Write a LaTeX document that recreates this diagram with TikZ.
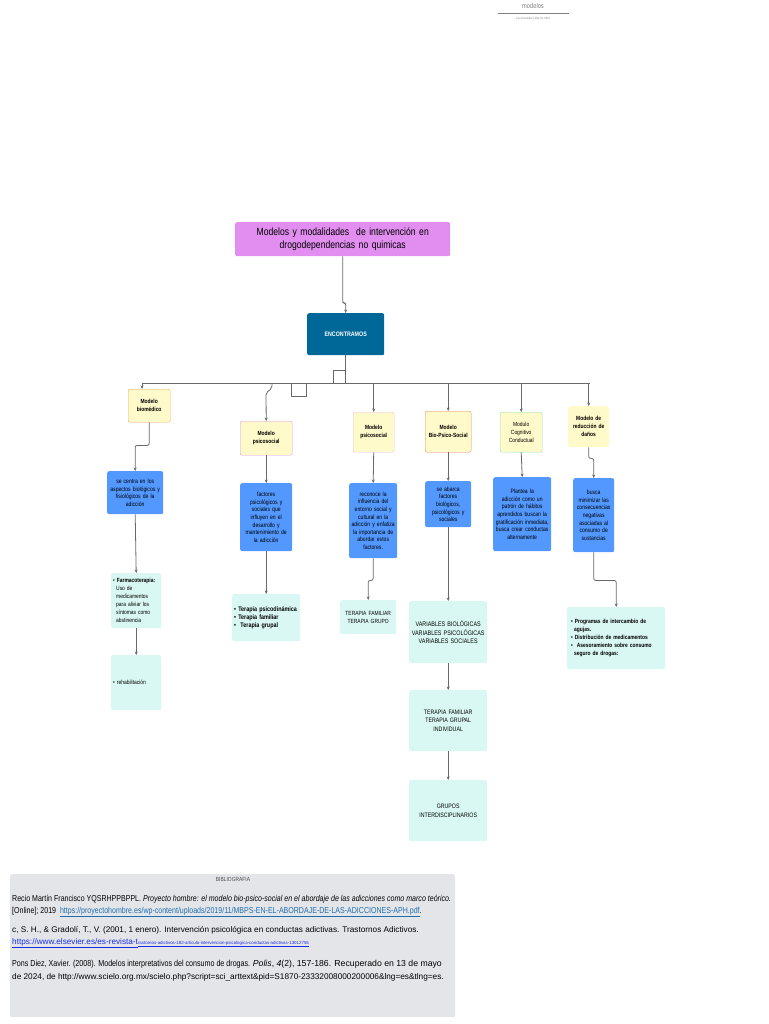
\documentclass[tikz,border=0pt]{standalone}
\usepackage{fontspec}
\setmainfont{Liberation Sans}
\newfontfamily\cond[FakeStretch=0.82]{Liberation Sans}
\usetikzlibrary{arrows.meta}
\definecolor{titlefill}{RGB}{226,142,240}
\definecolor{encfill}{RGB}{0,103,153}
\definecolor{yel}{RGB}{255,250,202}
\definecolor{blu}{RGB}{82,152,255}
\definecolor{cya}{RGB}{218,248,243}
\definecolor{bibfill}{RGB}{228,229,233}
\definecolor{lin}{RGB}{105,105,105}
\definecolor{bOrange}{RGB}{245,165,90}
\definecolor{bPink}{RGB}{228,150,240}
\definecolor{bPink2}{RGB}{240,190,240}
\definecolor{bRed}{RGB}{250,125,95}
\definecolor{bGreen}{RGB}{140,230,180}
\definecolor{linkA}{RGB}{30,110,175}
\definecolor{linkB}{RGB}{25,45,230}
\begin{document}
\begin{tikzpicture}[x=1pt,y=-1pt,
  base/.style={anchor=north west, rounded corners=2pt, inner sep=2pt, align=center},
  ybox/.style={base, fill=yel, font=\cond\bfseries\fontsize{6}{8}\selectfont},
  bbox/.style={base, fill=blu, font=\cond\fontsize{6.2}{7.6}\selectfont},
  cbox/.style={base, fill=cya, font=\cond\fontsize{6}{8}\selectfont},
  line/.style={draw=lin, line width=0.8pt, rounded corners=2pt},
  arr/.style={line, -{Stealth[length=3.5pt,width=3pt]}}]
\useasboundingbox (0,0) rectangle (768,1024);

% header
\node[text=gray, font=\cond\fontsize{7}{8}\selectfont] (hdr) at (533,6) {modelos};
\draw[gray, line width=0.6pt] (498,13) -- (569,13);
\node[text=gray, font=\cond\fontsize{3}{4}\selectfont] (hdrsub) at (533,19) {jose hernandez \textbar{} May 13, 2024};

% title and root
\node[base, fill=titlefill, minimum width=215pt, minimum height=34pt, text width=211pt,
      font=\cond\fontsize{10.5}{12.5}\selectfont] (title) at (235,222)
  {Modelos y modalidades~ de intervención en\\drogodependencias no quimicas};
\node[base, fill=encfill, text=white, minimum width=77pt, minimum height=42pt, text width=73pt,
      font=\cond\bfseries\fontsize{6.5}{8}\selectfont] (enc) at (307,313) {ENCONTRAMOS};

% level 2
\node[ybox, draw=bOrange, minimum width=42pt, minimum height=33pt, text width=38pt] (y1) at (128,389) {Modelo\\biomédico};
\node[ybox, draw=bPink, minimum width=52pt, minimum height=34pt, text width=48pt] (y2) at (240,421) {Modelo\\psicosocial\\[4pt]};
\node[ybox, draw=bPink2, minimum width=41pt, minimum height=40pt, text width=37pt] (y3) at (353,412) {Modelo\\psicosocial};
\node[ybox, draw=bRed, minimum width=46pt, minimum height=41pt, text width=42pt] (y4) at (425,411) {Modelo\\Bio-Psico-Social};
\node[ybox, draw=bGreen, minimum width=42pt, minimum height=40pt, text width=38pt, font=\cond\fontsize{6}{8}\selectfont] (y5) at (500,412) {Modulo\\Cognitivo\\Conductual};
\node[ybox, minimum width=41pt, minimum height=41pt, text width=37pt] (y6) at (568,406) {Modelo de\\reducción de\\daños};

% level 3
\node[bbox, minimum width=56pt, minimum height=43pt, text width=52pt] (b1) at (107,471) {se centra en los\\aspectos biológicos y\\fisiológicos de la\\adicción};
\node[bbox, minimum width=52pt, minimum height=68pt, text width=48pt] (b2) at (240,483) {factores\\psicológicos y\\sociales que\\influyen en el\\desarrollo y\\mantenimiento de\\la adicción};
\node[bbox, minimum width=48pt, minimum height=75pt, text width=44pt] (b3) at (349,483) {reconoce la\\influencia del\\entorno social y\\cultural en la\\adicción y enfatiza\\la importancia de\\abordar estos\\factores.};
\node[bbox, minimum width=46pt, minimum height=46pt, text width=42pt] (b4) at (425,481) {se abarca\\factores\\biológicos,\\psicológicos y\\sociales};
\node[bbox, minimum width=58pt, minimum height=74pt, text width=54pt] (b5) at (493,477) {Plantea la\\adicción como un\\patrón de hábitos\\aprendidos buscan la\\gratificación inmediata,\\busca crear conductas\\alternamente};
\node[bbox, minimum width=41pt, minimum height=74pt, text width=37pt] (b6) at (573,478) {busca\\minimizar las\\consecuencias\\negativas\\asociadas al\\consumo de\\sustancias};

% level 4
\node[cbox, minimum width=50pt, minimum height=55pt, text width=46pt, align=left] (c1) at (111,573)
  {• \textbf{Farmacoterapia:}\\\hspace*{3pt}Uso de\\\hspace*{3pt}medicamentos\\\hspace*{3pt}para aliviar los\\\hspace*{3pt}síntomas como\\\hspace*{3pt}abstinencia};
\node[cbox, minimum width=50pt, minimum height=55pt, text width=46pt, align=left] (c2) at (111,655) {• rehabilitación};
\node[cbox, minimum width=68pt, minimum height=47pt, text width=64pt, align=left, font=\cond\bfseries\fontsize{6.6}{8.2}\selectfont] (c3) at (232,594)
  {• Terapia psicodinámica\\• Terapia familiar\\•~ Terapia grupal};
\node[cbox, minimum width=56pt, minimum height=34pt, text width=52pt] (c4) at (340,600) {TERAPIA FAMILIAR\\TERAPIA GRUPO};
\node[cbox, minimum width=78pt, minimum height=62pt, text width=74pt, font=\cond\fontsize{6.6}{8.4}\selectfont] (c5) at (409,601) {VARIABLES BIOLÓGICAS\\VARIABLES PSICOLÓGICAS\\VARIABLES SOCIALES};
\node[cbox, minimum width=98pt, minimum height=62pt, text width=90pt, align=left, font=\cond\bfseries\fontsize{6}{8}\selectfont] (c6) at (567,607)
  {• Programas de intercambio de\\\hspace*{3pt}agujas.\\• Distribución de medicamentos\\•~ Asesoramiento sobre consumo\\\hspace*{3pt}seguro de drogas:};
\node[cbox, minimum width=78pt, minimum height=61pt, text width=74pt, font=\cond\fontsize{6.4}{8.4}\selectfont] (c7) at (409,690) {TERAPIA FAMILIAR\\TERAPIA GRUPAL\\INDIVIDUAL};
\node[cbox, minimum width=78pt, minimum height=61pt, text width=74pt, font=\cond\fontsize{6.4}{8.4}\selectfont] (c8) at (409,780) {GRUPOS\\INTERDISCIPLINARIOS};

% connectors
\draw[arr] (title.south) -- (title.south |- 0,303) -| (enc.north);
\coordinate (busL) at (142,383);
\coordinate (busR) at (590,383);
\draw[line] (enc.south) -- (enc.south |- busL);
\draw[line, rounded corners=0pt] (busL) -- (busR);
\draw[line, rounded corners=0pt, line width=0.6pt] (333,383) -- (333,370) -- (345,370);
\draw[line, rounded corners=0pt, line width=0.6pt] (291,383) -- (291,396) -- (306,396) -- (306,383);
\coordinate (t2) at (272,383);
\draw[arr] (busL) -- (busL |- y1.north);
\draw[arr] (t2) -- ++(0,5) -- ++(-6,5) -- (y2.north);
\draw[arr] (y3.north |- busL) -- (y3.north);
\draw[arr] (y4.north |- busL) -- (y4.north);
\draw[arr] (y5.north |- busL) -- (y5.north);
\draw[arr] (y6.north |- busL) -- (y6.north);

\draw[arr] (y1.south) -- ++(0,23) -| (b1.north);
\draw[arr] (y2.south) -- (b2.north);
\draw[arr] (y3.south) -- (b3.north);
\draw[arr] (y4.south) -- (b4.north);
\draw[arr] (y5.south) -- (b5.north);
\draw[arr] (y6.south) -- ++(0,11) -| (b6.north);

\draw[arr] (b1.south) -- (c1.north);
\draw[arr] (c1.south) -- (c2.north);
\draw[arr] (b2.south) -- (c3.north);
\draw[arr] (b3.south) -- ++(0,22) -| (c4.north);
\draw[arr] (b4.south) -- (c5.north);
\draw[arr] (b6.south) -- ++(0,28) -| (c6.north);
\draw[arr] (c5.south) -- (c7.north);
\draw[arr] (c7.south) -- (c8.north);

% bibliography
\node[anchor=north west, fill=bibfill, rounded corners=2pt, minimum width=445pt, minimum height=143pt, inner sep=0pt] (bib) at (10,874) {};
\node[font=\cond\fontsize{6}{7}\selectfont, text=black!70] (bibt) at (233,879) {BIBLIOGRAFIA};
\node[anchor=base west, inner sep=0pt, font=\cond\fontsize{8.6}{9}\selectfont] (l1) at (12,901)
  {Recio Martín Francisco YQSRHPPBPPL. \textit{Proyecto hombre: el modelo bio-psico-social en el abordaje de las adicciones como marco teórico.}};
\node[anchor=base west, inner sep=0pt, font=\cond\fontsize{8.6}{9}\selectfont] (l2) at (12,913)
  {[Online]; 2019~ \textcolor{linkA}{\underline{https://proyectohombre.es/wp-content/uploads/2019/11/MBPS-EN-EL-ABORDAJE-DE-LAS-ADICCIONES-APH.pdf}}.};
\node[anchor=base west, inner sep=0pt, font=\fontsize{8.2}{10}\selectfont] (l3) at (12,932)
  {c, S. H., \& Gradolí, T., V. (2001, 1 enero). Intervención psicológica en conductas adictivas. Trastornos Adictivos.};
\node[anchor=base west, inner sep=0pt, font=\fontsize{8.2}{10}\selectfont, text=linkB] (l4) at (12,944)
  {\underline{https://www.elsevier.es/es-revista-t}{\fontsize{4.4}{5}\selectfont\underline{rastornos-adictivos-182-articulo-intervencion-psicologica-conductas-adictivas-13012755}}};
\node[anchor=base west, inner sep=0pt, font=\cond\fontsize{8.7}{10}\selectfont] (l5) at (12,966)
  {Pons Diez, Xavier. (2008). Modelos interpretativos del consumo de drogas. {\fontsize{8.7}{10}\selectfont\normalfont\itshape Polis}{\fontsize{8.7}{10}\selectfont\normalfont, \textit{4}(2), 157-186. Recuperado en 13 de mayo}};
\node[anchor=base west, inner sep=0pt, font=\fontsize{8.25}{10}\selectfont] (l6) at (12,979)
  {de 2024, de http://www.scielo.org.mx/scielo.php?script=sci\_arttext\&pid=S1870-23332008000200006\&lng=es\&tlng=es.};
\end{tikzpicture}
\end{document}
